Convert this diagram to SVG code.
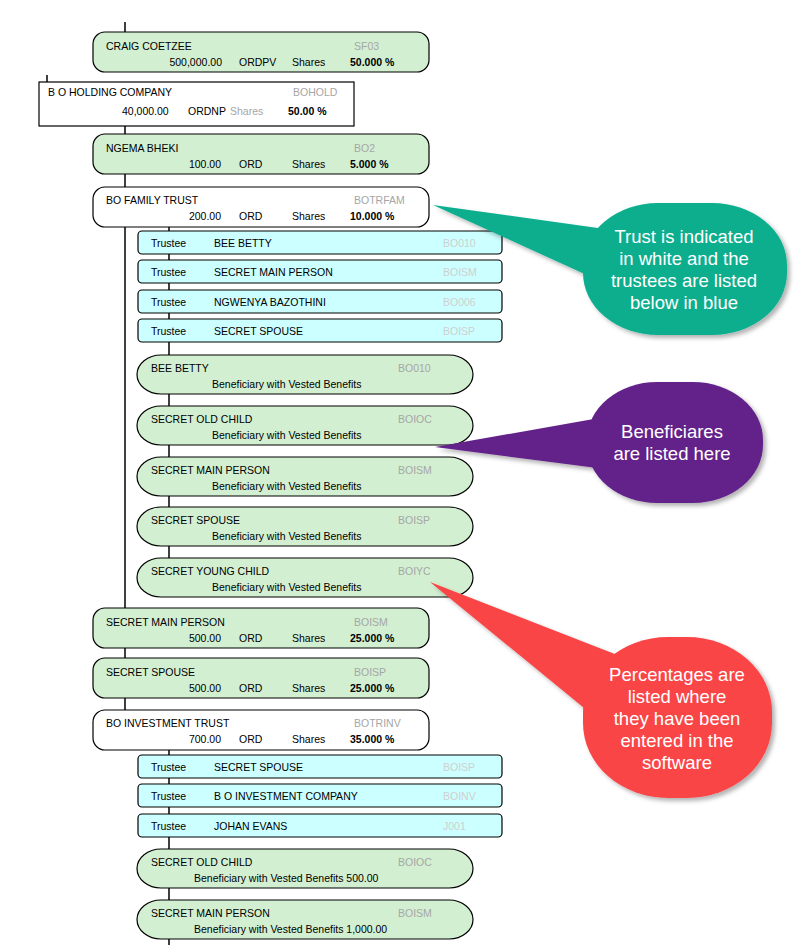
<svg xmlns="http://www.w3.org/2000/svg" width="796" height="945" viewBox="0 0 796 945">
<defs>
<style>
text{font-family:"Liberation Sans",Arial,sans-serif;font-size:10.5px;fill:#000}
.sh{fill:#D3EFD1;stroke:#000;stroke-width:1.2}
.tr{fill:#FFFFFF;stroke:#000;stroke-width:1.2}
.co{fill:#FFFFFF;stroke:#000;stroke-width:1.2}
.te{fill:#CCFFFF;stroke:#000;stroke-width:1.2}
.be{fill:#D3EFD1;stroke:#000;stroke-width:1.2}
.code{fill:#A6A6A6}
.tcode{fill:#CFCFCF}
.b{font-weight:bold}
.num{text-anchor:end}
.conn line{stroke:#000;stroke-width:1.5}
.ct{font-size:18.5px;fill:#FFFFFF;text-anchor:middle}
</style>
<filter id="sh" x="-20%" y="-20%" width="140%" height="140%">
<feDropShadow dx="3" dy="3" stdDeviation="2" flood-color="#000" flood-opacity="0.3"/>
</filter>
</defs>
<rect width="796" height="945" fill="#FFFFFF"/>

<g id="connectors" class="conn">
<line x1="125" y1="22" x2="125" y2="32"/>
<line x1="47" y1="75" x2="47" y2="82"/>
<line x1="125" y1="126" x2="125" y2="134"/>
<line x1="125" y1="174" x2="125" y2="187"/>
<line x1="125" y1="227" x2="125" y2="608"/>
<line x1="169" y1="227" x2="169" y2="231"/>
<line x1="169" y1="254" x2="169" y2="260"/>
<line x1="169" y1="283" x2="169" y2="290"/>
<line x1="169" y1="313" x2="169" y2="319"/>
<line x1="169" y1="342" x2="169" y2="355"/>
<line x1="169" y1="394" x2="169" y2="406"/>
<line x1="169" y1="445" x2="169" y2="457"/>
<line x1="169" y1="496" x2="169" y2="507"/>
<line x1="169" y1="546" x2="169" y2="558"/>
<line x1="125" y1="648" x2="125" y2="658"/>
<line x1="125" y1="698" x2="125" y2="710"/>
<line x1="169" y1="750" x2="169" y2="755"/>
<line x1="169" y1="778" x2="169" y2="784"/>
<line x1="169" y1="807" x2="169" y2="814"/>
<line x1="169" y1="837" x2="169" y2="849"/>
<line x1="169" y1="888" x2="169" y2="900"/>
<line x1="169" y1="939" x2="169" y2="945"/>
</g>

<g id="craig">
<rect class="sh" x="93" y="32" width="336" height="40" rx="12"/>
<text x="106" y="49.5">CRAIG COETZEE</text>
<text class="code" x="354" y="49.5">SF03</text>
<text class="num" x="222" y="65.5">500,000.00</text>
<text x="239" y="65.5">ORDPV</text>
<text x="292" y="65.5">Shares</text>
<text class="b" x="350" y="65.5">50.000 %</text>
</g>

<g id="bohold">
<rect class="co" x="39" y="82" width="315" height="44"/>
<text x="48" y="96">B O HOLDING COMPANY</text>
<text class="code" x="293" y="96">BOHOLD</text>
<text x="122" y="115">40,000.00</text>
<text x="188" y="115">ORDNP</text>
<text class="code" x="230" y="115">Shares</text>
<text class="b" x="288" y="115">50.00 %</text>
</g>

<g id="ngema">
<rect class="sh" x="93" y="134" width="336" height="40" rx="12"/>
<text x="106" y="151.5">NGEMA BHEKI</text>
<text class="code" x="354" y="151.5">BO2</text>
<text class="num" x="221" y="167.5">100.00</text>
<text x="239" y="167.5">ORD</text>
<text x="292" y="167.5">Shares</text>
<text class="b" x="350" y="167.5">5.000 %</text>
</g>

<g id="bofamily">
<rect class="tr" x="93" y="187" width="336" height="40" rx="12"/>
<text x="106" y="203.5">BO FAMILY TRUST</text>
<text class="code" x="354" y="203.5">BOTRFAM</text>
<text class="num" x="221" y="219.5">200.00</text>
<text x="239" y="219.5">ORD</text>
<text x="292" y="219.5">Shares</text>
<text class="b" x="350" y="219.5">10.000 %</text>
</g>

<g id="t1">
<rect class="te" x="138" y="231" width="364" height="23" rx="4"/>
<text x="151" y="247">Trustee</text><text x="214" y="247">BEE BETTY</text><text class="tcode" x="443" y="247">BO010</text>
</g>
<g id="t2">
<rect class="te" x="138" y="260" width="364" height="23" rx="4"/>
<text x="151" y="276">Trustee</text><text x="214" y="276">SECRET MAIN PERSON</text><text class="tcode" x="443" y="276">BOISM</text>
</g>
<g id="t3">
<rect class="te" x="138" y="290" width="364" height="23" rx="4"/>
<text x="151" y="306">Trustee</text><text x="214" y="306">NGWENYA BAZOTHINI</text><text class="tcode" x="443" y="306">BO006</text>
</g>
<g id="t4">
<rect class="te" x="138" y="319" width="364" height="23" rx="4"/>
<text x="151" y="335">Trustee</text><text x="214" y="335">SECRET SPOUSE</text><text class="tcode" x="443" y="335">BOISP</text>
</g>

<g id="b1">
<rect class="be" x="137" y="355" width="336" height="39" rx="24" ry="19.5"/>
<text x="151" y="372">BEE BETTY</text><text class="code" x="398" y="372">BO010</text>
<text x="212" y="388">Beneficiary with Vested Benefits</text>
</g>
<g id="b2">
<rect class="be" x="137" y="406" width="336" height="39" rx="24" ry="19.5"/>
<text x="151" y="423">SECRET OLD CHILD</text><text class="code" x="398" y="423">BOIOC</text>
<text x="212" y="439">Beneficiary with Vested Benefits</text>
</g>
<g id="b3">
<rect class="be" x="137" y="457" width="336" height="39" rx="24" ry="19.5"/>
<text x="151" y="474">SECRET MAIN PERSON</text><text class="code" x="398" y="474">BOISM</text>
<text x="212" y="490">Beneficiary with Vested Benefits</text>
</g>
<g id="b4">
<rect class="be" x="137" y="507" width="336" height="39" rx="24" ry="19.5"/>
<text x="151" y="524">SECRET SPOUSE</text><text class="code" x="398" y="524">BOISP</text>
<text x="212" y="540">Beneficiary with Vested Benefits</text>
</g>
<g id="b5">
<rect class="be" x="137" y="558" width="336" height="39" rx="24" ry="19.5"/>
<text x="151" y="575">SECRET YOUNG CHILD</text><text class="code" x="398" y="575">BOIYC</text>
<text x="212" y="591">Beneficiary with Vested Benefits</text>
</g>

<g id="secretmain">
<rect class="sh" x="93" y="608" width="336" height="40" rx="12"/>
<text x="106" y="625.5">SECRET MAIN PERSON</text>
<text class="code" x="354" y="625.5">BOISM</text>
<text class="num" x="221" y="641.5">500.00</text>
<text x="239" y="641.5">ORD</text>
<text x="292" y="641.5">Shares</text>
<text class="b" x="350" y="641.5">25.000 %</text>
</g>

<g id="secretspouse">
<rect class="sh" x="93" y="658" width="336" height="40" rx="12"/>
<text x="106" y="675.5">SECRET SPOUSE</text>
<text class="code" x="354" y="675.5">BOISP</text>
<text class="num" x="221" y="691.5">500.00</text>
<text x="239" y="691.5">ORD</text>
<text x="292" y="691.5">Shares</text>
<text class="b" x="350" y="691.5">25.000 %</text>
</g>

<g id="boinvest">
<rect class="tr" x="93" y="710" width="336" height="40" rx="12"/>
<text x="106" y="726.5">BO INVESTMENT TRUST</text>
<text class="code" x="354" y="726.5">BOTRINV</text>
<text class="num" x="221" y="742.5">700.00</text>
<text x="239" y="742.5">ORD</text>
<text x="292" y="742.5">Shares</text>
<text class="b" x="350" y="742.5">35.000 %</text>
</g>

<g id="t5">
<rect class="te" x="138" y="755" width="364" height="23" rx="4"/>
<text x="151" y="771">Trustee</text><text x="214" y="771">SECRET SPOUSE</text><text class="tcode" x="443" y="771">BOISP</text>
</g>
<g id="t6">
<rect class="te" x="138" y="784" width="364" height="23" rx="4"/>
<text x="151" y="800">Trustee</text><text x="214" y="800">B O INVESTMENT COMPANY</text><text class="tcode" x="443" y="800">BOINV</text>
</g>
<g id="t7">
<rect class="te" x="138" y="814" width="364" height="23" rx="4"/>
<text x="151" y="830">Trustee</text><text x="214" y="830">JOHAN EVANS</text><text class="tcode" x="443" y="830">J001</text>
</g>

<g id="b6">
<rect class="be" x="137" y="849" width="336" height="39" rx="24" ry="19.5"/>
<text x="151" y="866">SECRET OLD CHILD</text><text class="code" x="398" y="866">BOIOC</text>
<text x="194" y="882">Beneficiary with Vested Benefits 500.00</text>
</g>
<g id="b7">
<rect class="be" x="137" y="900" width="336" height="39" rx="24" ry="19.5"/>
<text x="151" y="917">SECRET MAIN PERSON</text><text class="code" x="398" y="917">BOISM</text>
<text x="194" y="933">Beneficiary with Vested Benefits 1,000.00</text>
</g>

<g id="callout-trust">
<g filter="url(#sh)" fill="#0BAE8E">
<rect x="583" y="203" width="204" height="132" rx="75" ry="62"/>
<polygon points="433,205 612,230 600,281"/>
</g>
<text class="ct" x="684" y="243">Trust is indicated</text>
<text class="ct" x="684" y="265">in white and the</text>
<text class="ct" x="684" y="287">trustees are listed</text>
<text class="ct" x="684" y="309">below in blue</text>
</g>

<g id="callout-beneficiaries">
<g filter="url(#sh)" fill="#632189">
<rect x="587" y="382" width="176" height="121" rx="70" ry="58"/>
<polygon points="435,447 605,417 605,469"/>
</g>
<text class="ct" x="672" y="438">Beneficiares</text>
<text class="ct" x="672" y="460">are listed here</text>
</g>

<g id="callout-percentages">
<g filter="url(#sh)" fill="#FA4446">
<rect x="583" y="637" width="189" height="161" rx="85" ry="75"/>
<polygon points="430,582 625,658 600,721"/>
</g>
<text class="ct" x="677" y="681">Percentages are</text>
<text class="ct" x="677" y="703">listed where</text>
<text class="ct" x="677" y="725">they have been</text>
<text class="ct" x="677" y="747">entered in the</text>
<text class="ct" x="677" y="769">software</text>
</g>
</svg>
